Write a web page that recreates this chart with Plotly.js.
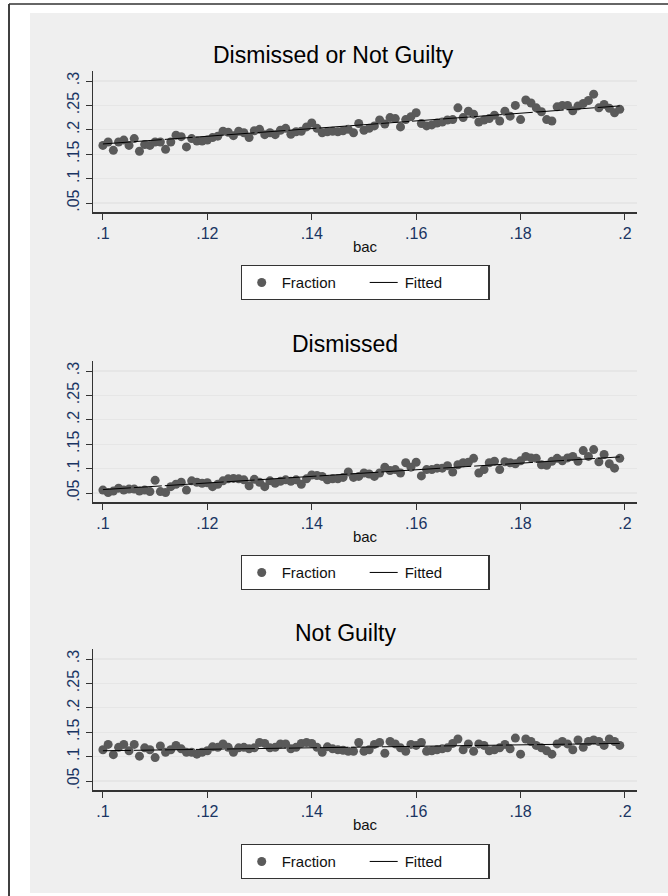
<!DOCTYPE html>
<html>
<head>
<meta charset="utf-8">
<script src="https://cdn.plot.ly/plotly-3.0.1.min.js"></script>
<style>html,body{margin:0;padding:0;background:#fff;}#chart{width:668px;height:896px;}</style>
</head>
<body>
<div id="chart"></div>
<script>
// ---- data ----
const panelTitles = ["Dismissed or Not Guilty", "Dismissed", "Not Guilty"];
const xTickVals = [0.10, 0.12, 0.14, 0.16, 0.18, 0.20];
const xTickText = [".1", ".12", ".14", ".16", ".18", ".2"];
const yTickVals = [0.05, 0.10, 0.15, 0.20, 0.25, 0.30];
const yTickText = [".05", ".1", ".15", ".2", ".25", ".3"];
const bac = [
0.100,0.101,0.102,0.103,0.104,0.105,0.106,0.107,0.108,0.109,
0.110,0.111,0.112,0.113,0.114,0.115,0.116,0.117,0.118,0.119,
0.120,0.121,0.122,0.123,0.124,0.125,0.126,0.127,0.128,0.129,
0.130,0.131,0.132,0.133,0.134,0.135,0.136,0.137,0.138,0.139,
0.140,0.141,0.142,0.143,0.144,0.145,0.146,0.147,0.148,0.149,
0.150,0.151,0.152,0.153,0.154,0.155,0.156,0.157,0.158,0.159,
0.160,0.161,0.162,0.163,0.164,0.165,0.166,0.167,0.168,0.169,
0.170,0.171,0.172,0.173,0.174,0.175,0.176,0.177,0.178,0.179,
0.180,0.181,0.182,0.183,0.184,0.185,0.186,0.187,0.188,0.189,
0.190,0.191,0.192,0.193,0.194,0.195,0.196,0.197,0.198,0.199];
const fracDismissedOrNotGuilty = [
0.168,0.175,0.158,0.175,0.179,0.168,0.182,0.156,0.170,0.168,
0.175,0.175,0.160,0.175,0.189,0.186,0.165,0.182,0.177,0.177,
0.179,0.184,0.187,0.197,0.195,0.188,0.197,0.194,0.184,0.198,
0.201,0.190,0.194,0.190,0.199,0.203,0.191,0.196,0.197,0.206,
0.214,0.203,0.194,0.196,0.197,0.196,0.198,0.201,0.194,0.213,
0.199,0.203,0.208,0.220,0.212,0.225,0.223,0.206,0.221,0.227,
0.235,0.213,0.208,0.210,0.214,0.216,0.220,0.221,0.245,0.225,
0.238,0.232,0.216,0.220,0.223,0.230,0.218,0.238,0.228,0.250,
0.221,0.261,0.255,0.245,0.237,0.221,0.218,0.247,0.250,0.250,
0.239,0.249,0.254,0.260,0.273,0.245,0.252,0.244,0.235,0.242];
const fracDismissed = [
0.056,0.051,0.054,0.060,0.056,0.058,0.058,0.054,0.056,0.053,
0.076,0.053,0.051,0.063,0.068,0.072,0.056,0.075,0.072,0.070,
0.071,0.063,0.068,0.075,0.079,0.080,0.079,0.077,0.065,0.078,
0.072,0.063,0.075,0.070,0.074,0.077,0.074,0.077,0.068,0.079,
0.087,0.086,0.084,0.077,0.079,0.079,0.082,0.093,0.082,0.084,
0.091,0.089,0.084,0.091,0.103,0.096,0.098,0.091,0.112,0.103,
0.113,0.085,0.098,0.098,0.101,0.101,0.106,0.093,0.108,0.112,
0.113,0.121,0.091,0.098,0.112,0.115,0.098,0.114,0.112,0.110,
0.116,0.125,0.122,0.121,0.108,0.107,0.115,0.121,0.116,0.122,
0.125,0.115,0.137,0.125,0.139,0.114,0.129,0.110,0.101,0.121];
const fracNotGuilty = [
0.114,0.125,0.104,0.119,0.125,0.112,0.125,0.101,0.118,0.114,
0.098,0.122,0.109,0.114,0.123,0.116,0.109,0.109,0.105,0.109,
0.112,0.120,0.119,0.126,0.119,0.109,0.118,0.119,0.116,0.118,
0.129,0.127,0.118,0.119,0.126,0.126,0.116,0.119,0.127,0.129,
0.127,0.119,0.109,0.120,0.116,0.114,0.113,0.111,0.111,0.129,
0.111,0.114,0.125,0.129,0.107,0.131,0.126,0.118,0.111,0.125,
0.123,0.129,0.111,0.112,0.114,0.116,0.118,0.127,0.136,0.114,
0.126,0.111,0.126,0.123,0.112,0.114,0.118,0.125,0.116,0.138,
0.105,0.136,0.131,0.123,0.118,0.112,0.105,0.126,0.131,0.126,
0.114,0.134,0.119,0.131,0.134,0.131,0.123,0.136,0.131,0.123];
const fitBac = [0.100, 0.199];
const fitDismissedOrNotGuilty = [0.171, 0.249];
const fitDismissed = [0.057, 0.124];
const fitNotGuilty = [0.112, 0.127];

// ---- layout helpers ----
const W = 668, H = 896;
const FONT = "Liberation Sans, Arial, sans-serif";
const series = [fracDismissedOrNotGuilty, fracDismissed, fracNotGuilty];
const fits = [fitDismissedOrNotGuilty, fitDismissed, fitNotGuilty];
const plotTops = [71, 361, 649];
const plotH = 141;
const legendTops = [265, 555, 844];
const titleY = [55, 344, 633];
const titleX = [333, 345, 345];
const xL = 93, xR = 637;

const traces = [];
const layout = {
  width: W, height: H,
  margin: {l: 0, r: 0, t: 0, b: 0},
  paper_bgcolor: "#ffffff",
  plot_bgcolor: "#ffffff",
  font: {family: FONT, color: "#000"},
  showlegend: true,
  shapes: [
    {type: "rect", xref: "paper", yref: "paper", x0: 30/W, x1: 1, y0: 1 - 893/H, y1: 1 - 13/H,
     fillcolor: "#efefef", line: {width: 0}, layer: "below"},
    {type: "line", xref: "paper", yref: "paper", x0: 9/W, x1: 9/W, y0: 0, y1: 1 - 4/H,
     line: {color: "#000", width: 1.5}},
    {type: "line", xref: "paper", yref: "paper", x0: 9/W, x1: 1, y0: 1 - 4/H, y1: 1 - 4/H,
     line: {color: "#333", width: 1.5}}
  ],
  annotations: []
};

for (let p = 0; p < 3; p++) {
  const sfx = p === 0 ? "" : String(p + 1);
  const xa = "x" + sfx, ya = "y" + sfx;
  const lg = "legend" + sfx;
  traces.push({
    type: "scatter", mode: "markers", x: bac, y: series[p], xaxis: xa, yaxis: ya,
    name: "Fraction", legend: lg,
    marker: {color: "#5a5a5a", size: 9, line: {width: 0}}
  });
  traces.push({
    type: "scatter", mode: "lines", x: fitBac, y: fits[p], xaxis: xa, yaxis: ya,
    name: "Fitted", legend: lg,
    line: {color: "#000", width: 1, dash: "28px,3px"}
  });
  const top = plotTops[p], bot = top + plotH;
  layout["xaxis" + sfx] = {
    domain: [xL / W, xR / W], anchor: ya,
    range: [0.0981, 0.2023],
    tickvals: xTickVals, ticktext: xTickText,
    ticks: "outside", ticklen: 6, tickcolor: "#333", tickwidth: 1,
    showline: true, linecolor: "#333", linewidth: 1.5,
    showgrid: false, zeroline: false,
    tickfont: {family: FONT, size: 16, color: "#1a3563"},
    title: {text: "bac", font: {family: FONT, size: 15, color: "#111"}, standoff: 1}
  };
  layout["yaxis" + sfx] = {
    domain: [1 - bot / H, 1 - top / H], anchor: xa,
    range: [0.0316, 0.3205],
    tickvals: yTickVals, ticktext: yTickText, tickangle: -90,
    ticks: "outside", ticklen: 6, tickcolor: "#333", tickwidth: 1,
    showline: true, linecolor: "#333", linewidth: 1.5,
    showgrid: true, gridcolor: "#e6e6e6", gridwidth: 1.2, zeroline: false,
    tickfont: {family: FONT, size: 16, color: "#1a3563"}
  };
  layout[lg] = {
    orientation: "h", x: 365 / W, xanchor: "center", y: 1 - legendTops[p] / H, yanchor: "top",
    bgcolor: "#ffffff", bordercolor: "#333", borderwidth: 1.2,
    font: {family: FONT, size: 15, color: "#111"},
    entrywidth: 78, tracegroupgap: 0
  };
  layout.annotations.push({
    xref: "paper", yref: "paper", x: titleX[p] / W, y: 1 - titleY[p] / H,
    xanchor: "center", yanchor: "middle", showarrow: false,
    text: panelTitles[p], font: {family: FONT, size: 23, color: "#000"}
  });
}

Plotly.newPlot("chart", traces, layout, {staticPlot: true, displayModeBar: false});
</script>
</body>
</html>
